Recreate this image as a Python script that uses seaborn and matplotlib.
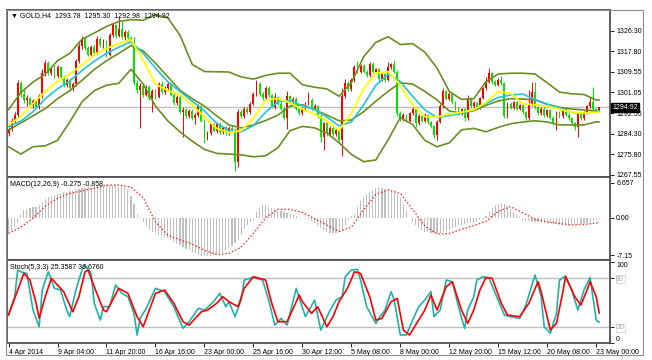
import matplotlib
matplotlib.use("Agg")
import matplotlib.pyplot as plt
import matplotlib.transforms as mtransforms
from matplotlib.patches import Rectangle
import seaborn as sns

###############################################################################
# Data
###############################################################################

# candles, one per H4 bar (index 0 = first bar on the left)
opens = [
    1284.6, 1286.2, 1289.6, 1291.8, 1304.8, 1300.4, 1297.8, 1298.6, 1296.0, 1297.4,
    1295.2, 1299.6, 1308.9, 1313.0, 1309.0, 1311.2, 1307.8, 1311.5, 1307.5, 1304.2,
    1306.0, 1302.8, 1304.4, 1313.8, 1320.2, 1323.0, 1319.2, 1316.5, 1319.5, 1317.2,
    1322.8, 1320.5, 1321.8, 1316.2, 1324.5, 1328.5, 1324.2, 1327.0, 1323.5, 1325.8,
    1323.2, 1321.8, 1305.0, 1302.2, 1303.8, 1300.2, 1303.4, 1298.6, 1301.8, 1299.2,
    1304.6, 1301.2, 1303.0, 1304.4, 1300.2, 1296.8, 1299.4, 1293.2, 1294.0, 1291.5,
    1293.5, 1290.5, 1292.0, 1295.5, 1289.5, 1282.5, 1284.5, 1288.0, 1285.5, 1288.3,
    1284.8, 1286.8, 1284.5, 1286.6, 1285.8, 1272.5, 1293.0, 1291.5, 1294.5, 1293.0,
    1296.5, 1300.5, 1304.5, 1300.5, 1298.8, 1303.0, 1300.0, 1295.0, 1299.0, 1296.5,
    1294.5, 1290.5, 1299.5, 1297.0, 1298.5, 1294.5, 1292.5, 1294.5, 1296.5, 1298.0,
    1294.5, 1295.5, 1291.5, 1283.0, 1288.5, 1284.0, 1286.5, 1284.0, 1285.8, 1281.8,
    1299.5, 1305.0, 1302.5, 1306.0, 1311.5, 1309.5, 1312.0, 1309.5, 1308.0, 1312.8,
    1309.5, 1310.5, 1306.5, 1308.5, 1306.2, 1311.5, 1312.5, 1309.5, 1292.8, 1290.2,
    1291.8, 1289.5, 1292.5, 1294.3, 1288.5, 1291.5, 1289.5, 1291.8, 1288.8, 1287.2,
    1283.5, 1289.0, 1295.5, 1301.5, 1298.5, 1300.5, 1297.0, 1294.5, 1292.5, 1294.2,
    1290.5, 1298.8, 1295.5, 1296.8, 1295.0, 1298.8, 1302.8, 1305.5, 1308.8, 1305.2,
    1304.2, 1306.2, 1304.8, 1291.5, 1296.5, 1294.8, 1297.0, 1294.5, 1295.8, 1293.0,
    1290.5, 1296.0, 1301.2, 1295.0, 1292.5, 1294.5, 1291.8, 1293.8, 1290.8, 1288.5,
    1293.0, 1291.5, 1294.5, 1292.0, 1290.5, 1288.5, 1286.8, 1292.6, 1290.5, 1292.8,
    1295.5, 1297.0, 1294.2, 1293.78,
]
highs = [
    1286.8, 1290.8, 1293.0, 1306.2, 1305.8, 1303.0, 1300.2, 1299.4, 1298.2, 1298.0,
    1300.4, 1310.5, 1314.3, 1313.8, 1312.0, 1312.2, 1312.4, 1312.0, 1308.2, 1307.0,
    1306.8, 1305.2, 1314.8, 1321.3, 1324.0, 1323.8, 1320.0, 1320.4, 1321.0, 1324.0,
    1323.6, 1323.0, 1322.4, 1325.2, 1329.5, 1329.0, 1331.9, 1330.6, 1326.4, 1326.5,
    1324.0, 1323.5, 1306.2, 1305.0, 1304.6, 1304.0, 1304.2, 1302.6, 1302.4, 1305.4,
    1305.6, 1303.8, 1305.2, 1305.0, 1301.0, 1300.2, 1300.0, 1295.0, 1294.8, 1294.2,
    1294.2, 1292.8, 1296.2, 1296.0, 1290.2, 1285.2, 1288.6, 1288.6, 1288.9, 1288.8,
    1287.4, 1287.5, 1287.2, 1287.4, 1286.4, 1294.5, 1294.0, 1295.2, 1295.2, 1297.2,
    1301.2, 1306.0, 1305.2, 1301.2, 1303.6, 1303.6, 1300.6, 1301.0, 1299.6, 1297.2,
    1295.2, 1301.5, 1300.2, 1299.2, 1299.0, 1295.2, 1295.2, 1297.2, 1301.2, 1298.6,
    1296.2, 1296.0, 1292.2, 1289.2, 1289.0, 1287.2, 1287.0, 1286.6, 1286.4, 1303.0,
    1306.5, 1305.8, 1306.8, 1312.4, 1314.0, 1312.8, 1312.6, 1310.2, 1313.5, 1313.4,
    1311.2, 1311.0, 1309.2, 1309.0, 1313.5, 1313.2, 1314.5, 1310.2, 1293.6, 1292.6,
    1292.4, 1293.2, 1295.0, 1294.8, 1292.2, 1292.0, 1292.6, 1292.4, 1289.4, 1287.8,
    1289.8, 1296.2, 1303.0, 1302.2, 1301.2, 1301.0, 1297.6, 1295.2, 1294.8, 1294.8,
    1300.0, 1299.4, 1297.4, 1297.4, 1299.4, 1303.4, 1307.5, 1311.2, 1309.4, 1306.0,
    1306.8, 1307.6, 1305.3, 1297.2, 1297.0, 1297.6, 1297.6, 1296.4, 1296.4, 1293.6,
    1302.0, 1305.3, 1305.5, 1295.6, 1295.2, 1295.0, 1294.4, 1294.4, 1291.4, 1293.6,
    1293.6, 1295.2, 1295.0, 1292.6, 1291.2, 1289.2, 1293.2, 1293.2, 1293.4, 1296.0,
    1299.0, 1303.4, 1294.8, 1295.30,
]
lows = [
    1283.2, 1285.4, 1288.4, 1290.6, 1299.2, 1296.8, 1295.6, 1295.2, 1294.8, 1294.6,
    1294.2, 1298.8, 1307.8, 1308.2, 1308.0, 1306.8, 1307.0, 1306.6, 1303.4, 1303.2,
    1301.5, 1301.8, 1303.6, 1313.0, 1318.8, 1318.2, 1315.8, 1315.6, 1316.4, 1316.6,
    1319.6, 1319.4, 1315.4, 1315.8, 1323.8, 1323.4, 1323.6, 1322.8, 1322.6, 1322.4,
    1320.8, 1304.2, 1300.8, 1286.4, 1299.4, 1299.6, 1297.8, 1293.2, 1298.4, 1298.6,
    1300.4, 1300.6, 1302.2, 1299.6, 1296.0, 1296.0, 1292.6, 1283.0, 1290.8, 1290.6,
    1289.8, 1288.0, 1291.2, 1288.8, 1280.4, 1281.6, 1283.8, 1284.8, 1284.6, 1284.0,
    1283.9, 1283.6, 1283.8, 1284.9, 1269.0, 1270.5, 1290.6, 1290.8, 1292.2, 1292.4,
    1295.8, 1299.8, 1299.8, 1298.0, 1298.2, 1299.4, 1294.6, 1294.2, 1295.8, 1293.8,
    1289.8, 1286.0, 1296.4, 1296.4, 1293.8, 1291.8, 1291.8, 1293.8, 1295.8, 1293.8,
    1293.8, 1290.8, 1281.0, 1277.5, 1283.2, 1283.4, 1283.2, 1283.2, 1280.5, 1275.0,
    1298.8, 1301.6, 1301.8, 1305.4, 1308.8, 1308.8, 1308.8, 1307.2, 1307.4, 1308.8,
    1308.8, 1305.8, 1305.8, 1305.4, 1305.6, 1310.6, 1308.8, 1291.5, 1289.4, 1289.4,
    1288.8, 1288.8, 1291.8, 1287.0, 1287.8, 1288.8, 1288.8, 1288.2, 1286.6, 1282.5,
    1281.6, 1288.4, 1294.8, 1297.8, 1297.8, 1296.4, 1293.8, 1291.8, 1291.8, 1289.5,
    1289.8, 1294.8, 1294.8, 1294.4, 1294.4, 1298.2, 1302.2, 1304.8, 1304.6, 1303.6,
    1303.6, 1304.2, 1290.5, 1290.8, 1294.2, 1294.2, 1293.8, 1293.8, 1292.4, 1289.8,
    1289.8, 1295.4, 1294.4, 1291.8, 1291.8, 1291.2, 1291.2, 1290.2, 1287.8, 1285.7,
    1290.8, 1290.8, 1291.4, 1289.8, 1287.8, 1285.8, 1283.0, 1289.8, 1289.8, 1292.2,
    1294.8, 1293.6, 1292.6, 1292.98,
]
closes = [
    1286.2, 1289.6, 1291.8, 1304.8, 1300.4, 1297.8, 1298.6, 1296.0, 1297.4, 1295.2,
    1299.6, 1308.9, 1313.0, 1309.0, 1311.2, 1307.8, 1311.5, 1307.5, 1304.2, 1306.0,
    1302.8, 1304.4, 1313.8, 1320.2, 1323.0, 1319.2, 1316.5, 1319.5, 1317.2, 1322.8,
    1320.5, 1321.8, 1316.2, 1324.5, 1328.5, 1324.2, 1327.0, 1323.5, 1325.8, 1323.2,
    1321.8, 1305.0, 1302.2, 1303.8, 1300.2, 1303.4, 1298.6, 1301.8, 1299.2, 1304.6,
    1301.2, 1303.0, 1304.4, 1300.2, 1296.8, 1299.4, 1293.2, 1294.0, 1291.5, 1293.5,
    1290.5, 1292.0, 1295.5, 1289.5, 1282.5, 1284.5, 1288.0, 1285.5, 1288.3, 1284.8,
    1286.8, 1284.5, 1286.6, 1285.8, 1272.5, 1293.0, 1291.5, 1294.5, 1293.0, 1296.5,
    1300.5, 1304.5, 1300.5, 1298.8, 1303.0, 1300.0, 1295.0, 1299.0, 1296.5, 1294.5,
    1290.5, 1299.5, 1297.0, 1298.5, 1294.5, 1292.5, 1294.5, 1296.5, 1298.0, 1294.5,
    1295.5, 1291.5, 1283.0, 1288.5, 1284.0, 1286.5, 1284.0, 1285.8, 1281.8, 1299.5,
    1305.0, 1302.5, 1306.0, 1311.5, 1309.5, 1312.0, 1309.5, 1308.0, 1312.8, 1309.5,
    1310.5, 1306.5, 1308.5, 1306.2, 1311.5, 1312.5, 1309.5, 1292.8, 1290.2, 1291.8,
    1289.5, 1292.5, 1294.3, 1288.5, 1291.5, 1289.5, 1291.8, 1288.8, 1287.2, 1283.5,
    1289.0, 1295.5, 1301.5, 1298.5, 1300.5, 1297.0, 1294.5, 1292.5, 1294.2, 1290.5,
    1298.8, 1295.5, 1296.8, 1295.0, 1298.8, 1302.8, 1305.5, 1308.8, 1305.2, 1304.2,
    1306.2, 1304.8, 1291.5, 1296.5, 1294.8, 1297.0, 1294.5, 1295.8, 1293.0, 1290.5,
    1296.0, 1301.2, 1295.0, 1292.5, 1294.5, 1291.8, 1293.8, 1290.8, 1288.5, 1293.0,
    1291.5, 1294.5, 1292.0, 1290.5, 1288.5, 1286.8, 1292.6, 1290.5, 1292.8, 1295.5,
    1297.0, 1294.2, 1293.78, 1294.92,
]

# overlay lines, read every 4th bar
line_x = [0, 4, 8, 12, 16, 20, 24, 28, 32, 36, 40, 44, 48, 52, 56, 60, 64, 68, 72,
          76, 80, 84, 88, 92, 96, 100, 104, 108, 112, 116, 120, 124, 128, 132, 136,
          140, 144, 148, 152, 156, 160, 164, 168, 172, 176, 180, 184, 188, 192, 193]
bb_upper = [1294.0, 1301.0, 1305.3, 1308.5, 1314.0, 1317.0, 1322.8, 1325.3, 1328.0,
            1330.0, 1330.8, 1330.5, 1332.8, 1331.5, 1324.5, 1312.5, 1309.6, 1309.5,
            1309.4, 1307.4, 1306.5, 1308.0, 1308.9, 1308.9, 1304.2, 1303.2, 1302.5,
            1299.5, 1305.0, 1315.6, 1321.5, 1323.8, 1320.6, 1321.0, 1317.5, 1311.0,
            1301.5, 1298.2, 1298.5, 1305.5, 1308.6, 1308.9, 1308.9, 1308.6, 1305.0,
            1301.2, 1300.5, 1300.2, 1298.0, 1297.9]
bb_middle = [1285.7, 1288.6, 1291.5, 1294.5, 1298.5, 1301.8, 1306.0, 1310.4, 1314.0,
             1317.0, 1320.2, 1318.0, 1313.0, 1307.5, 1302.0, 1298.5, 1295.5, 1291.5,
             1287.8, 1286.6, 1287.8, 1289.6, 1291.8, 1295.5, 1296.0, 1294.0, 1291.8,
             1289.5, 1289.8, 1293.2, 1297.5, 1301.5, 1305.0, 1304.5, 1301.5, 1298.0,
             1293.5, 1292.6, 1293.6, 1295.8, 1297.6, 1298.5, 1298.4, 1298.0, 1296.2,
             1295.0, 1294.3, 1293.9, 1293.6, 1293.6]
bb_lower = [1278.9, 1275.9, 1278.9, 1279.3, 1281.5, 1289.0, 1297.2, 1301.8, 1304.0,
            1304.8, 1310.5, 1304.5, 1295.5, 1289.5, 1285.0, 1281.2, 1277.8, 1276.2,
            1275.9, 1275.6, 1274.8, 1275.2, 1278.5, 1285.5, 1287.2, 1286.6, 1284.5,
            1280.5, 1275.8, 1272.8, 1273.5, 1281.7, 1290.8, 1288.0, 1281.5, 1278.9,
            1280.5, 1285.8, 1286.4, 1285.0, 1286.8, 1288.3, 1289.0, 1289.5, 1289.0,
            1287.8, 1287.8, 1287.8, 1289.1, 1289.0]
ma_fast = [1287.8, 1291.3, 1296.6, 1301.5, 1305.5, 1308.6, 1312.3, 1316.5, 1319.0,
           1321.0, 1322.6, 1314.2, 1304.5, 1301.8, 1300.2, 1296.0, 1291.0, 1286.4,
           1284.7, 1285.5, 1290.5, 1298.0, 1298.6, 1296.8, 1294.2, 1292.2, 1289.5,
           1285.5, 1292.5, 1302.5, 1309.0, 1309.5, 1304.0, 1296.0, 1291.2, 1291.0,
           1292.2, 1293.0, 1294.0, 1297.0, 1301.5, 1300.6, 1296.5, 1296.0, 1295.5,
           1294.2, 1293.0, 1292.6, 1292.9, 1293.0]
ma_slow = [1287.1, 1289.3, 1293.2, 1298.5, 1302.5, 1305.8, 1310.0, 1313.8, 1317.0,
           1319.5, 1321.8, 1317.0, 1311.0, 1305.5, 1301.5, 1297.5, 1293.5, 1288.5,
           1285.5, 1285.0, 1287.5, 1293.0, 1297.2, 1297.8, 1295.6, 1294.2, 1291.0,
           1287.4, 1289.0, 1296.0, 1304.0, 1308.5, 1305.5, 1299.5, 1294.0, 1290.8,
           1291.6, 1292.5, 1294.0, 1296.6, 1299.0, 1300.0, 1300.4, 1298.2, 1296.3,
           1294.8, 1292.9, 1292.4, 1293.3, 1293.5]

# MACD(12,26,9): main as histogram (every bar), signal read every 4th bar
macd_hist = [
    -3.0, -2.6, -2.0, -1.0, 0.6, 1.5, 1.7, 1.9, 2.1, 2.1,
    2.4, 3.0, 3.5, 3.9, 4.2, 4.4, 4.6, 4.7, 4.8, 4.9,
    5.0, 5.1, 5.3, 5.5, 5.6, 5.7, 5.8, 5.9, 6.0, 6.1,
    6.2, 6.2, 6.2, 6.2, 6.1, 6.0, 5.9, 5.8, 5.6, 5.3,
    4.2, 2.7, 0.8, 0.1, -0.8, -1.5, -2.1, -2.7, -3.0, -3.2,
    -3.4, -3.6, -3.9, -4.3, -4.7, -5.0, -5.2, -5.5, -5.9, -6.2,
    -6.5, -6.8, -7.0, -7.2, -7.3, -7.3, -7.2, -7.1, -6.9, -6.7,
    -6.5, -6.1, -5.7, -5.3, -4.9, -4.2, -3.2, -2.2, -1.4, -0.8,
    -0.4, 1.0, 1.8, 2.4, 2.4, 2.1, 1.8, 1.6, 1.4, 1.2,
    1.0, 0.9, 0.7, 0.5, 0.3, 0.1, 0.0, -0.3, -0.5, -0.7,
    -1.0, -1.5, -2.0, -2.4, -2.7, -2.9, -3.0, -3.0, -2.8, -2.3,
    -1.3, -0.4, 0.3, 0.8, 2.0, 3.2, 3.9, 4.5, 4.9, 5.3,
    5.6, 5.8, 5.7, 5.5, 5.3, 5.1, 4.9, 4.6, 3.7, 2.7,
    1.2, 0.0, -0.8, -1.4, -1.9, -2.3, -2.7, -2.8, -2.9, -3.0,
    -3.0, -3.0, -2.7, -2.5, -2.3, -2.0, -1.7, -1.4, -1.3, -1.2,
    -1.1, -1.1, -1.0, -0.8, -0.5, -0.2, 0.4, 1.1, 1.8, 2.4,
    2.6, 2.8, 2.6, 2.2, 1.6, 1.1, 0.6, 0.1, -0.4, -0.6,
    -0.7, -0.8, -0.9, -0.9, -1.0, -1.0, -1.1, -1.1, -1.2, -1.2,
    -1.3, -1.4, -1.4, -1.4, -1.4, -1.3, -1.3, -1.2, -1.2, -1.1,
    -0.9, -0.7, -0.5, -0.275,
]
macd_signal = [-3.0, -1.8, -0.1, 2.2, 3.7, 4.6, 5.1, 5.6, 6.2, 6.2, 5.8, 3.8, -0.8,
               -3.3, -4.2, -5.0, -6.2, -7.0, -6.8, -5.6, -3.0, 0.0, 1.6, 1.6, 1.0,
               -0.2, -1.4, -2.6, -1.8, 1.5, 4.4, 5.3, 4.6, 1.6, -1.6, -3.1, -3.0,
               -2.2, -1.5, -0.7, 1.2, 2.1, 0.9, -0.3, -0.8, -1.1, -1.4, -1.3, -1.0,
               -0.858]

# Stochastic(5,3,3), turning points
stoch_k_x = [0, 2, 3, 4, 6, 8, 10, 11, 13, 15, 17, 19, 20, 22, 24, 25, 27, 28, 30,
             31, 33, 35, 37, 39, 41, 42, 43, 45, 48, 51, 54, 57, 59, 62, 64, 67, 69,
             71, 72, 74, 76, 77, 80, 83, 85, 87, 89, 91, 94, 95, 97, 100, 102, 105,
             107, 109, 110, 112, 114, 115, 117, 120, 121, 123, 125, 126, 128, 130,
             132, 134, 136, 138, 139, 141, 143, 145, 147, 149, 150, 152, 153, 155,
             157, 159, 162, 164, 167, 169, 172, 174, 175, 177, 179, 180, 182, 184,
             186, 188, 190, 192, 193]
stoch_k = [34.5, 57.0, 90.0, 88.0, 86.0, 40.6, 20.0, 65.4, 88.0, 67.5, 65.4, 40.6,
           32.4, 65.4, 90.0, 96.4, 86.0, 48.9, 28.2, 44.8, 44.8, 71.6, 61.3, 57.2,
           36.5, 9.7, 30.3, 42.7, 67.5, 63.4, 44.8, 17.9, 26.2, 42.7, 40.6, 51.0,
           61.3, 44.8, 51.0, 32.4, 53.0, 77.8, 81.0, 77.8, 53.0, 22.0, 30.3, 22.0,
           67.5, 55.0, 32.4, 53.0, 15.9, 40.0, 53.0, 57.2, 82.0, 90.2, 91.0, 77.8,
           44.8, 24.1, 30.3, 40.6, 63.4, 53.0, 9.7, 9.7, 28.2, 44.8, 53.0, 63.4,
           32.4, 40.6, 77.8, 75.7, 44.8, 17.9, 40.6, 57.2, 77.8, 82.0, 80.0, 61.3,
           34.5, 32.4, 30.3, 46.8, 84.0, 57.2, 20.0, 11.8, 36.5, 77.8, 82.8, 65.4,
           40.6, 65.4, 81.0, 28.2, 25.36]
stoch_d_x = [0, 3, 5, 7, 9, 10, 12, 14, 16, 18, 21, 23, 25, 26, 28, 31, 32, 36, 39,
             42, 44, 46, 48, 51, 54, 57, 59, 63, 65, 68, 70, 72, 75, 77, 80, 84, 86,
             88, 91, 95, 96, 99, 101, 104, 106, 108, 111, 113, 115, 118, 120, 122,
             125, 127, 129, 131, 133, 136, 138, 140, 143, 145, 148, 150, 152, 154,
             156, 158, 161, 163, 167, 170, 173, 174, 177, 179, 181, 182, 185, 187,
             189, 190, 192, 193]
stoch_d = [34.5, 65.4, 86.0, 77.8, 49.0, 30.3, 57.2, 80.0, 71.6, 63.4, 38.5, 57.2,
           88.0, 90.0, 69.5, 40.6, 38.5, 67.5, 61.3, 32.4, 20.0, 40.6, 61.3, 65.4,
           49.0, 26.2, 22.0, 38.5, 40.6, 49.0, 57.2, 51.0, 44.8, 67.5, 82.0, 77.8,
           49.0, 26.2, 26.2, 59.2, 51.0, 36.5, 44.8, 20.0, 32.4, 51.0, 69.5, 88.0,
           86.0, 57.2, 28.2, 30.3, 51.0, 55.0, 15.9, 9.7, 22.0, 40.6, 59.2, 40.6,
           69.5, 75.7, 40.6, 24.1, 40.6, 65.4, 81.0, 80.0, 49.0, 34.5, 32.4, 49.0,
           75.7, 63.4, 15.9, 24.1, 61.3, 82.0, 57.2, 46.8, 65.4, 75.7, 57.2, 36.68]

# axis labels as printed in the terminal
price_ticks = [1326.30, 1317.80, 1309.55, 1301.05, 1292.55, 1284.30, 1275.80, 1267.55]
price_tick_labels = ["1326.30", "1317.80", "1309.55", "1301.05",
                     "1292.55", "1284.30", "1275.80", "1267.55"]
macd_ticks = [6.657, 0.0, -7.15]
macd_tick_labels = ["6.657", "0.00", "-7.15"]
stoch_ticks = [100, 80, 20, 0]
stoch_tick_labels = ["100", "80", "20", "0"]
date_ticks = [0, 16, 32, 48, 64, 80, 96, 112, 128, 144, 160, 176, 192]
date_labels = ["4 Apr 2014", "9 Apr 04:00", "11 Apr 20:00", "16 Apr 16:00",
               "23 Apr 00:00", "25 Apr 16:00", "30 Apr 12:00", "5 May 08:00",
               "8 May 00:00", "12 May 20:00", "15 May 12:00", "20 May 08:00",
               "23 May 00:00"]
last_price = 1294.92
title_main = "\u25bc GOLD,H4  1293.78  1295.30  1292.98  1294.92"
title_macd = "MACD(12,26,9) -0.275 -0.858"
title_stoch = "Stoch(5,3,3) 25.3587 36.6760"

###############################################################################
# Plot
###############################################################################

sns.set_theme(style="white")
plt.rcParams["font.family"] = ["Liberation Sans", "DejaVu Sans"]

BULL = "#ff0000"
BEAR = "#00e600"
BAND = "#6b8e23"
SPINE = "#505050"
FS = 5

fig = plt.figure(figsize=(6.52, 3.6), dpi=100)
fig.patch.set_facecolor("white")

left, width = 7 / 652, 603 / 652
ax1 = fig.add_axes([left, 1 - 177 / 360, width, 167 / 360])
ax2 = fig.add_axes([left, 1 - 260 / 360, width, 83 / 360], sharex=ax1)
ax3 = fig.add_axes([left, 1 - 343 / 360, width, 83 / 360], sharex=ax1)

# outer terminal frame
fig.add_artist(Rectangle((6 / 652, 5 / 360), 637 / 652, 345 / 360,
                         transform=fig.transFigure, fill=False,
                         ec="#909090", lw=0.8))

idx = list(range(len(closes)))
colors = [BULL if c >= o else BEAR for o, c in zip(opens, closes)]
body_low = [min(o, c) for o, c in zip(opens, closes)]
body_h = [max(abs(c - o), 0.35) for o, c in zip(opens, closes)]

# --- main price panel -------------------------------------------------------
ax1.axhline(last_price, color="#c0c0c0", lw=1.0, zorder=1)
ax1.vlines(idx, lows, highs, colors=colors, lw=0.7, zorder=2)
ax1.bar(idx, body_h, bottom=body_low, width=0.6, color=colors, lw=0, zorder=2)

for series, col, lw in [(bb_upper, BAND, 1.2), (bb_middle, BAND, 1.2),
                        (bb_lower, BAND, 1.2), (ma_slow, "#22c4d6", 1.2),
                        (ma_fast, "#ffff00", 1.3)]:
    sns.lineplot(x=line_x, y=series, ax=ax1, color=col, lw=lw, zorder=3)

ax1.set_ylim(1266.55, 1334.71)
ax1.text(0.006, 0.965, title_main, transform=ax1.transAxes, fontsize=FS,
         va="center", ha="left", color="black")
blend = mtransforms.blended_transform_factory(ax1.transAxes, ax1.transData)
ax1.text(1.004, last_price, f"{last_price:.2f}", transform=blend, fontsize=FS,
         color="white", va="center", ha="left",
         bbox=dict(fc="black", ec="black", pad=0.9))

# --- MACD panel -------------------------------------------------------------
ax2.bar(idx, macd_hist, width=0.38, color="#c0c0c0", lw=0)
sns.lineplot(x=line_x, y=macd_signal, ax=ax2, color="#ff2020", lw=0.9,
             linestyle=(0, (1.2, 1.6)))
ax2.set_ylim(-8.04, 7.74)
ax2.text(0.005, 0.915, title_macd, transform=ax2.transAxes, fontsize=FS,
         va="center", ha="left", color="black")

# --- Stochastic panel -------------------------------------------------------
ax3.axhline(80, color="#c0c0c0", lw=1.0)
ax3.axhline(20, color="#c0c0c0", lw=1.0)
sns.lineplot(x=stoch_k_x, y=stoch_k, ax=ax3, color="#20b2aa", lw=1.2)
sns.lineplot(x=stoch_d_x, y=stoch_d, ax=ax3, color="#ff0000", lw=1.2)
ax3.set_ylim(-0.2, 102.6)
ax3.text(0.005, 0.905, title_stoch, transform=ax3.transAxes, fontsize=FS,
         va="center", ha="left", color="black")

# --- axes styling -----------------------------------------------------------
for ax, ticks, labels in [(ax1, price_ticks, price_tick_labels),
                          (ax2, macd_ticks, macd_tick_labels),
                          (ax3, stoch_ticks, stoch_tick_labels)]:
    ax.set_facecolor("white")
    ax.grid(False)
    ax.set_xlabel("")
    ax.set_ylabel("")
    for sp in ax.spines.values():
        sp.set_visible(True)
        sp.set_color(SPINE)
        sp.set_linewidth(1.3)
    ax.yaxis.tick_right()
    ax.set_yticks(ticks)
    ax.set_yticklabels(labels)
    ax.tick_params(axis="y", which="both", right=True, left=False, length=3,
                   width=0.6, direction="out", labelsize=FS, pad=1.5,
                   colors="black")

for lbl in ax3.get_yticklabels():
    txt = lbl.get_text()
    if txt in ("80", "20"):
        lbl.set_color("#a8a8a8")
        lbl.set_bbox(dict(fc="white", ec="#c8c8c8", lw=0.5, pad=0.4))
    elif txt == "100":
        lbl.set_verticalalignment("top")
    elif txt == "0":
        lbl.set_verticalalignment("bottom")

ax1.set_xlim(-0.5, 196.5)
ax1.tick_params(axis="x", bottom=False, labelbottom=False)
ax2.tick_params(axis="x", bottom=False, labelbottom=False)
ax3.set_xticks(date_ticks)
ax3.set_xticklabels(date_labels, ha="left")
ax3.tick_params(axis="x", bottom=True, length=3, width=0.6, direction="out",
                labelsize=FS, pad=1.5, colors="black")

fig.savefig("out.png", dpi=100, facecolor="white")
